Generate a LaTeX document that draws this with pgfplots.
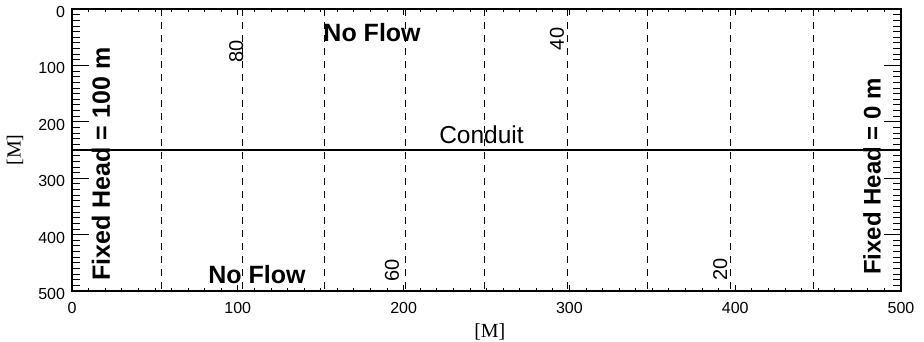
\documentclass[border=0pt]{standalone}
\usepackage{fontspec}
\setmainfont{Liberation Sans}
\newfontfamily\serifM{Liberation Serif}
\usepackage{pgfplots}
\pgfplotsset{compat=1.18}
\begin{document}
\begin{tikzpicture}[x=1pt,y=1pt]
\useasboundingbox (0,0) rectangle (924,342);
% y-tick axis (long ticks)
\begin{axis}[
  at={(72pt,51pt)}, anchor=south west,
  scale only axis, width=829pt, height=282pt,
  xmin=0, xmax=500, ymin=0, ymax=500, y dir=reverse,
  xtick=\empty,
  ytick={0,100,200,300,400,500},
  minor y tick num=9,
  tick align=inside, ytick pos=both, yticklabel pos=left,
  major tick length=16.6pt, minor tick length=8pt,
  tick style={black, line width=0.8pt},
  axis line style={line width=1.1pt},
  /pgf/number format/assume math mode=true,
  yticklabel style={font=\fontsize{16}{18}\selectfont, xshift=-3.5pt, yshift=-3pt},
  ylabel={[M]},
  ylabel style={font=\serifM\fontsize{20}{22}\selectfont, at={(axis description cs:-0.0688,0.5)}, anchor=center},
]
\end{axis}
% main axis with x ticks and data
\begin{axis}[
  at={(72pt,51pt)}, anchor=south west,
  scale only axis, width=829pt, height=282pt,
  xmin=0, xmax=500, ymin=0, ymax=500, y dir=reverse,
  ytick=\empty,
  xtick={0,100,200,300,400,500},
  minor x tick num=9,
  tick align=inside, xtick pos=both, xticklabel pos=bottom,
  major tick length=5.6pt, minor tick length=3pt,
  tick style={black, line width=0.8pt},
  axis line style={line width=1.1pt},
  /pgf/number format/assume math mode=true,
  xticklabel style={font=\fontsize{16}{18}\selectfont, yshift=-7.5pt},
  xlabel={[M]},
  xlabel style={font=\serifM\fontsize{20}{22}\selectfont, at={(axis description cs:0.504,-0.145)}, anchor=center},
  clip=false,
]
\pgfplotsset{cont/.style={black, line width=0.9pt, dash pattern=on 7pt off 6pt}}
\addplot[cont] coordinates {(54,0) (54,500)};
\addplot[cont] coordinates {(103,0) (103,500)};
\addplot[cont] coordinates {(152,0) (152,500)};
\addplot[cont] coordinates {(201,0) (201,500)};
\addplot[cont, line width=1.2pt] coordinates {(249,0) (249,500)};
\addplot[cont] coordinates {(299,0) (299,500)};
\addplot[cont] coordinates {(347,0) (347,500)};
\addplot[cont] coordinates {(397,0) (397,500)};
\addplot[cont] coordinates {(447,0) (447,500)};
\addplot[black, line width=1.5pt] coordinates {(0,250) (500,250)};
% annotations
\node[rotate=90, font=\bfseries\fontsize{25}{28}\selectfont] at (axis cs:17.5,275) {Fixed Head = 100 m};
\node[rotate=90, font=\bfseries\fontsize{24}{27}\selectfont] at (axis cs:482.5,297) {Fixed Head = 0 m};
\node[font=\bfseries\fontsize{25}{28}\selectfont] at (axis cs:181,42.5) {No Flow};
\node[font=\bfseries\fontsize{25}{28}\selectfont] at (axis cs:111.6,471.6) {No Flow};
\node[font=\fontsize{24.5}{27}\selectfont] at (axis cs:247,223) {Conduit};
\node[rotate=90, font=\fontsize{20}{22}\selectfont] at (axis cs:99,74.5) {80};
\node[rotate=90, font=\fontsize{20}{22}\selectfont] at (axis cs:292.5,53) {40};
\node[rotate=90, font=\fontsize{20}{22}\selectfont] at (axis cs:193,463) {60};
\node[rotate=90, font=\fontsize{20}{22}\selectfont] at (axis cs:391,461) {20};
\end{axis}
\end{tikzpicture}
\end{document}
